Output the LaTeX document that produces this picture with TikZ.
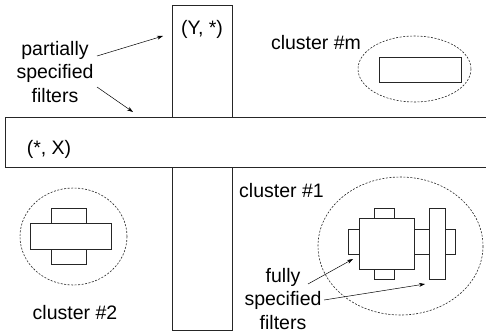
\documentclass[tikz,border=0pt]{standalone}
\usepackage{fontspec}
\setmainfont{Liberation Sans}
\usetikzlibrary{arrows.meta}
\begin{document}
\begin{tikzpicture}[x=1pt,y=-1pt,
  box/.style={draw=black!85,line width=0.8pt,fill=white},
  clus/.style={draw=black!85,line width=0.6pt,dash pattern=on 2pt off 1.5pt},
  lbl/.style={font=\fontsize{19.5}{23.5}\selectfont,inner sep=0pt,align=center},
  arr/.style={-{Stealth[length=6pt,width=4pt]},line width=0.5pt}]
\useasboundingbox (0,0) rectangle (486,333);
% partially specified filters
\draw[box] (172,5) rectangle (232,330);
\fill[white] (5,117) rectangle (486,167);
\draw[box,fill=none] (486,117) -- (5,117) -- (5,167) -- (486,167);
% cluster m
\draw[clus] (414.5,69) ellipse [x radius=56.5, y radius=33];
\draw[box] (379,57) rectangle (461,82);
% cluster 2
\draw[clus] (73.5,236.5) ellipse [x radius=53.5, y radius=48.5];
\draw[box] (51,208) rectangle (86,264);
\draw[box] (30,223) rectangle (111,249);
% cluster 1
\draw[clus] (400.5,246) ellipse [x radius=82.5, y radius=69];
\draw[box] (348,229) rectangle (359,254);
\draw[box] (374,208) rectangle (394,218);
\draw[box] (374,269) rectangle (394,279);
\draw[box] (359,218) rectangle (414,269);
\draw[box] (414,229) rectangle (429,254);
\draw[box] (445,229) rectangle (455,254);
\draw[box] (429,208) rectangle (445,279);
% labels
\node[lbl] (yst) at (202,29) {(Y, *)};
\node[lbl] (stx) at (49,149) {(*, X)};
\node[lbl] (psf) at (55,72) {partially\\specified\\filters};
\node[lbl] (cm) at (316,43) {cluster \#m};
\node[lbl] (c1) at (281.5,191) {cluster \#1};
\node[lbl] (c2) at (75,313) {cluster \#2};
\node[lbl] (fsf) at (283,299) {fully\\specified\\filters};
% arrow coordinates
\coordinate (a1s) at (97,56);
\coordinate (a1e) at (163,36);
\coordinate (a2s) at (97,87);
\coordinate (a2e) at (133,112);
\coordinate (a3s) at (308,284);
\coordinate (a3e) at (353,259);
\coordinate (a4s) at (324,300);
\coordinate (a4e) at (425,284);
\draw[arr] (a1s) -- (a1e);
\draw[arr] (a2s) -- (a2e);
\draw[arr] (a3s) -- (a3e);
\draw[arr] (a4s) -- (a4e);
\end{tikzpicture}
\end{document}
